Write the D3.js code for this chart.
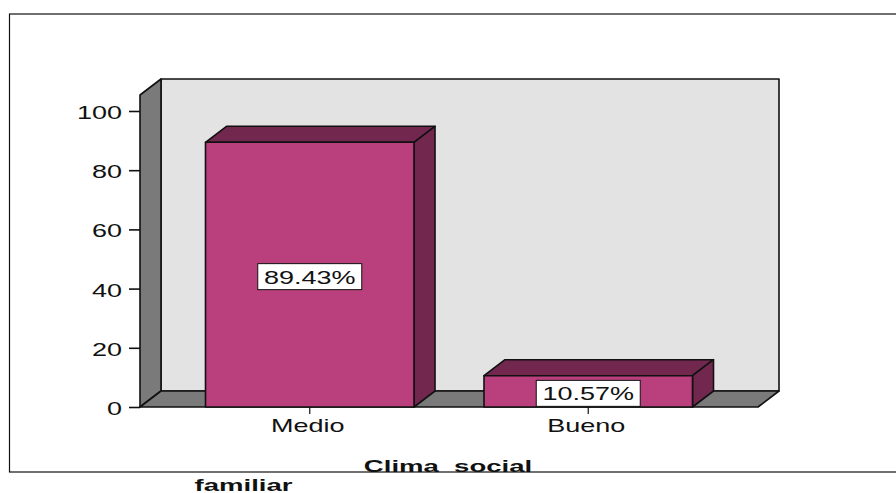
<!DOCTYPE html>
<html><head><meta charset="utf-8">
<script src="https://cdn.jsdelivr.net/npm/d3@7"></script>
<style>html,body{margin:0;padding:0;background:#fff;overflow:hidden}svg{display:block}text{font-family:"Liberation Sans",Arial,sans-serif;fill:#111}</style>
</head><body><svg id="c" width="896" height="493"></svg>
<script>
const categories = ["Medio", "Bueno"];
const values = [89.43, 10.57];
const valueLabels = ["89.43%", "10.57%"];
const yTicks = [0, 20, 40, 60, 80, 100];
const axisTitleLines = ["Clima  social", "familiar"];

const W = 896, H = 493, dx = 21, dy = -16, stretch = 1.5;
const colors = {bar:"#B9407C", barDark:"#72274F", grey:"#7A7A7A", wall:"#E3E3E3", ink:"#111"};
const svg = d3.select("#c");

const x = d3.scaleBand().domain(categories).range([140, 758]).paddingInner(0.2513).paddingOuter(0.2352);
const y = d3.scaleLinear().domain([0, 105.4]).range([407, 95]);
const lineW = 1.6;
const poly = (pts, fill) => svg.append("polygon").attr("points", pts.map(p => p.join(",")).join(" "))
  .attr("fill", fill).attr("stroke", colors.ink).attr("stroke-width", lineW).attr("stroke-linejoin", "round");

// outer frame
svg.append("rect").attr("x", 9.5).attr("y", 14).attr("width", W + 20).attr("height", 458)
  .attr("fill", "#fff").attr("stroke", colors.ink).attr("stroke-width", 1.2);

const [x0, x1] = x.range(), y0 = y(0), yT = y.range()[1];
poly([[x0+dx,yT+dy],[x1+dx,yT+dy],[x1+dx,y0+dy],[x0+dx,y0+dy]], colors.wall);
poly([[x0,yT],[x0+dx,yT+dy],[x0+dx,y0+dy],[x0,y0]], colors.grey);
poly([[x0,y0],[x0+dx,y0+dy],[x1+dx,y0+dy],[x1,y0]], colors.grey);

// bars
categories.forEach((c, i) => {
  const l = x(c), r = l + x.bandwidth(), t = y(values[i]);
  poly([[l,t],[l+dx,t+dy],[r+dx,t+dy],[r,t]], colors.barDark);
  poly([[r,t],[r+dx,t+dy],[r+dx,y0+dy],[r,y0]], colors.barDark);
  poly([[l,t],[r,t],[r,y0],[l,y0]], colors.bar);
});

// axes
const yAxis = svg.append("g").attr("transform", `translate(${x0},0)`)
  .call(d3.axisLeft(y).tickValues(yTicks).tickSize(11).tickSizeOuter(0));
yAxis.select(".domain").remove();
yAxis.selectAll("line").attr("stroke", colors.ink).attr("stroke-width", 1.6);
yAxis.selectAll("text").attr("x", 0).attr("dy", "0.36em")
  .attr("transform", `translate(-18,1) scale(${stretch},1)`)
  .style("font-size", "18px").attr("fill", colors.ink);

const xAxis = svg.append("g").attr("transform", `translate(0,${y0})`)
  .call(d3.axisBottom(x).tickSize(7).tickSizeOuter(0));
xAxis.select(".domain").remove();
xAxis.selectAll("line").attr("stroke", colors.ink).attr("stroke-width", 1.2);
xAxis.selectAll("text").attr("y", 0).attr("dy", 0)
  .attr("transform", `translate(-2,25) scale(${stretch},1)`)
  .style("font-size", "18px").attr("fill", colors.ink);

// value labels
categories.forEach((c, i) => {
  const cx = x(c) + x.bandwidth() / 2, cy = (y(values[i]) + y0) / 2 + 2;
  svg.append("rect").attr("x", cx - 52).attr("y", cy - 13).attr("width", 104).attr("height", 26)
    .attr("fill", "#fff").attr("stroke", colors.ink).attr("stroke-width", 1);
  svg.append("text").text(valueLabels[i]).attr("text-anchor", "middle")
    .attr("transform", `translate(${cx},${cy + 7}) scale(${stretch},1)`).style("font-size", "18px");
});

// axis title
[[448, 472], [243.5, 491]].forEach((p, i) => {
  svg.append("text").text(axisTitleLines[i]).attr("text-anchor", "middle")
    .style("white-space", "pre").style("font-weight", "bold").style("font-size", "17px")
    .attr("transform", `translate(${p[0]},${p[1]}) scale(1.62,1)`);
});
</script></body></html>
